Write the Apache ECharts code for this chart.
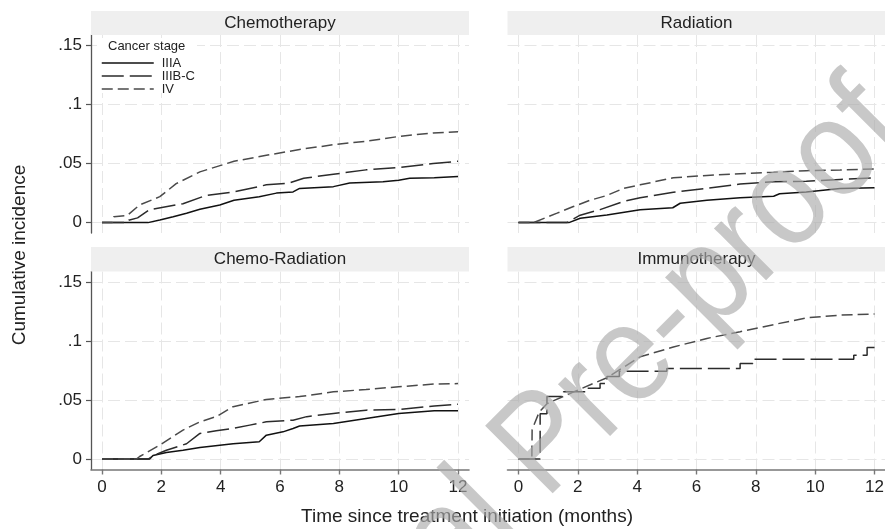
<!DOCTYPE html>
<html>
<head>
<meta charset="utf-8">
<script src="https://cdn.jsdelivr.net/npm/echarts@6/dist/echarts.min.js"></script>
<style>
  html, body { margin: 0; padding: 0; background: #fff; }
  #chart { width: 885px; height: 529px; }
</style>
</head>
<body>
<div id="chart"></div>
<script>
// panels and stages
var panels = ['Chemotherapy', 'Radiation', 'Chemo-Radiation', 'Immunotherapy'];
var stages = ['IIIA', 'IIIB-C', 'IV'];

// ticks
var xTicks = [0, 2, 4, 6, 8, 10, 12];
var yTicks = [0, 0.05, 0.1, 0.15];
var yTickLabels = ['0', '.05', '.1', '.15'];

// cumulative incidence [months, value]
var chemoIIIA = [[0, 0], [1.55, 0], [1.95, 0.0023], [2.4, 0.0049], [2.85, 0.008], [3.3, 0.0113], [3.97, 0.015],
  [4.45, 0.019], [5.3, 0.022], [5.88, 0.025], [6.44, 0.026], [6.66, 0.029], [7.8, 0.0305], [8.35, 0.0335],
  [9.47, 0.0347], [10, 0.036], [10.37, 0.0376], [11.2, 0.038], [12, 0.039]];
var chemoIIIBC = [[0, 0], [0.85, 0], [0.9, 0.002], [1.2, 0.004], [1.6, 0.011], [2.73, 0.016], [3.5, 0.023],
  [4.45, 0.026], [5.54, 0.032], [6.3, 0.0335], [6.8, 0.0376], [7.8, 0.041], [8.9, 0.0447], [10, 0.0466],
  [11.16, 0.05], [12, 0.052]];
var chemoIV = [[0, 0], [0.35, 0], [0.4, 0.005], [0.85, 0.006], [1.27, 0.015], [1.95, 0.022], [2.5, 0.033],
  [3.3, 0.043], [4.45, 0.052], [5.54, 0.057], [6.66, 0.062], [7.8, 0.066], [8.9, 0.069], [10, 0.073],
  [11.16, 0.076], [12, 0.077]];

var radIIIA = [[0, 0], [1.7, 0], [2.08, 0.0037], [2.98, 0.0065], [4.1, 0.011], [5.2, 0.0126], [5.45, 0.0164],
  [6.35, 0.019], [7.47, 0.021], [8.6, 0.0224], [8.8, 0.0245], [9.7, 0.026], [10.84, 0.029], [12, 0.0296]];
var radIIIBC = [[0, 0], [1.63, 0], [2.08, 0.0063], [2.75, 0.011], [3.54, 0.018], [4.1, 0.021], [5.22, 0.0257],
  [6.35, 0.029], [7.47, 0.0327], [8.6, 0.0347], [9.7, 0.035], [10.84, 0.0366], [12, 0.038]];
var radIV = [[0, 0], [0.5, 0], [1.3, 0.008], [1.85, 0.0136], [2.42, 0.019], [2.98, 0.023], [3.54, 0.029],
  [4.1, 0.032], [5.22, 0.038], [6.35, 0.04], [7.47, 0.0415], [8.6, 0.0427], [9.7, 0.044], [10.84, 0.0446],
  [12, 0.0455]];

var crIIIA = [[0, 0], [1.6, 0], [1.72, 0.003], [2.17, 0.0056], [2.73, 0.0075], [3.3, 0.0098], [4.42, 0.013],
  [5.3, 0.0147], [5.54, 0.0203], [6.1, 0.0231], [6.44, 0.026], [6.66, 0.028], [7.8, 0.0302], [8.9, 0.0345],
  [10, 0.0387], [11.2, 0.041], [12, 0.041]];
var crIIIBC = [[0, 0], [1.55, 0], [1.83, 0.004], [2.17, 0.0075], [2.85, 0.013], [3.3, 0.0218], [3.85, 0.024],
  [4.42, 0.026], [4.98, 0.0288], [5.54, 0.0316], [6.44, 0.033], [6.9, 0.036], [7.8, 0.0387], [8.9, 0.0415],
  [10, 0.042], [11.2, 0.045], [12, 0.0466]];
var crIV = [[0, 0], [1.16, 0], [1.27, 0.0022], [1.95, 0.0119], [2.73, 0.0246], [3.3, 0.0316], [3.85, 0.036],
  [4.42, 0.0444], [5.54, 0.0506], [6.66, 0.053], [7.8, 0.057], [8.9, 0.059], [10, 0.0613], [11.2, 0.0636],
  [12, 0.064]];

// immunotherapy: no IIIA curve
var immIIIBC = [[0, 0], [0.73, 0.0385], [0.96, 0.053], [1.52, 0.057], [2.3, 0.06], [2.75, 0.064], [2.98, 0.07],
  [3.4, 0.0745], [5.0, 0.0768], [7.47, 0.081], [7.9, 0.0847], [11.3, 0.088], [11.75, 0.0945], [12, 0.0945]];
var immIV = [[0, 0], [0.45, 0], [0.46, 0.025], [0.7, 0.04], [0.96, 0.047], [1.86, 0.057], [2.98, 0.069],
  [4.1, 0.0867], [5.22, 0.095], [6.35, 0.1023], [7.47, 0.108], [8.6, 0.114], [9.7, 0.1197], [10.84, 0.122],
  [12, 0.123]];

var panelData = [
  [chemoIIIA, chemoIIIBC, chemoIV],
  [radIIIA, radIIIBC, radIV],
  [crIIIA, crIIIBC, crIV],
  [null, immIIIBC, immIV]
];

var font = "'Liberation Sans', Arial, sans-serif";
var stageStyle = [
  { type: 'solid', color: '#111' },
  { type: [22, 6], color: '#2b2b2b' },
  { type: [11, 5], color: '#4a4a4a' }
];
var boxes = [
  { left: 91, top: 35 }, { left: 507.5, top: 35 },
  { left: 91, top: 271.5 }, { left: 507.5, top: 271.5 }
];
var boxW = 378, boxH = 198;
var gridLine = { show: true, lineStyle: { color: '#e6e6e6', type: [12, 5], width: 1 } };

var grids = [], xAxes = [], yAxes = [], series = [], graphics = [];

boxes.forEach(function (b, i) {
  var bottomRow = i >= 2, leftCol = i % 2 === 0;
  grids.push({ left: b.left, top: b.top, width: boxW, height: boxH, outerBoundsMode: 'none' });
  xAxes.push({
    type: 'value', gridIndex: i, min: -0.37, max: 12.37,
    axisLine: { show: bottomRow, onZero: false, lineStyle: { color: '#777', width: 1.6 } },
    axisTick: { show: bottomRow, customValues: xTicks, length: 5, lineStyle: { color: '#777', width: 1.4 } },
    axisLabel: { show: bottomRow, customValues: xTicks, margin: 9, fontSize: 17, color: '#222', fontFamily: font },
    splitLine: gridLine
  });
  yAxes.push({
    type: 'value', gridIndex: i, min: -0.0088, max: 0.159,
    axisLine: { show: leftCol, onZero: false, lineStyle: { color: '#555', width: 1.3 } },
    axisTick: { show: leftCol, customValues: yTicks, length: 5, lineStyle: { color: '#555', width: 1.2 } },
    axisLabel: {
      show: leftCol, customValues: yTicks, margin: 9, fontSize: 17, color: '#222', fontFamily: font,
      formatter: function (v) {
        for (var k = 0; k < yTicks.length; k++) {
          if (Math.abs(yTicks[k] - v) < 1e-9) return yTickLabels[k];
        }
        return '';
      }
    },
    splitLine: gridLine
  });

  panelData[i].forEach(function (d, s) {
    if (!d) return;
    series.push({
      name: stages[s],
      type: 'line',
      xAxisIndex: i,
      yAxisIndex: i,
      data: d,
      step: (i === 3 && s === 1) ? 'end' : false,
      symbol: 'none',
      lineStyle: { color: stageStyle[s].color, type: stageStyle[s].type, width: 1.5 },
      itemStyle: { color: stageStyle[s].color },
      z: 3 + s
    });
  });

  // header strip
  var stripTop = bottomRow ? 247 : 11;
  graphics.push({
    type: 'rect', silent: true, z: 1,
    shape: { x: b.left, y: stripTop, width: boxW, height: b.top - stripTop },
    style: { fill: '#efefef' }
  });
  graphics.push({
    type: 'text', silent: true, z: 2,
    x: b.left + boxW / 2, y: (stripTop + b.top) / 2 + 0.5,
    style: { text: panels[i], fontSize: 17, fontFamily: font, fill: '#222', align: 'center', verticalAlign: 'middle' }
  });
});

// axis titles
graphics.push({
  type: 'text', silent: true, x: 20, y: 255, rotation: Math.PI / 2,
  style: { text: 'Cumulative incidence', fontSize: 19, fontFamily: font, fill: '#222', align: 'center', verticalAlign: 'middle' }
});
graphics.push({
  type: 'text', silent: true, x: 467, y: 517,
  style: { text: 'Time since treatment initiation (months)', fontSize: 19, fontFamily: font, fill: '#222', align: 'center', verticalAlign: 'middle' }
});
// legend box and title
graphics.push({
  type: 'rect', silent: true, z: 1,
  shape: { x: 97, y: 38, width: 100, height: 55 },
  style: { fill: '#fff' }
});
graphics.push({
  type: 'text', silent: true, z: 2, x: 108, y: 46,
  style: { text: 'Cancer stage', fontSize: 13, fontFamily: font, fill: '#222', align: 'left', verticalAlign: 'middle' }
});
// watermark
graphics.push({
  type: 'text', silent: true, z: 100, x: 884, y: 108, rotation: 45 * Math.PI / 180, scaleY: 1.12,
  style: { text: 'Journal Pre-proof', fontSize: 124, fontFamily: font, fill: 'rgba(171,171,171,0.65)', align: 'right', verticalAlign: 'middle' }
});

var myChart = echarts.init(document.getElementById('chart'));

var option = {
  animation: false,
  backgroundColor: '#fff',
  grid: grids,
  xAxis: xAxes,
  yAxis: yAxes,
  legend: {
    data: stages.map(function (s, k) {
      return {
        name: s,
        itemStyle: { opacity: 0 },
        lineStyle: { type: stageStyle[k].type, color: stageStyle[k].color, width: 1.5 }
      };
    }),
    orient: 'vertical',
    left: 101,
    top: 56.5,
    z: 3,
    padding: 0,
    itemGap: 0,
    itemWidth: 52,
    itemHeight: 10,
    selectedMode: false,
    textStyle: { fontSize: 13, lineHeight: 12, fontFamily: font, color: '#222', padding: [0, 0, 0, 3] }
  },
  series: series,
  graphic: graphics
};

myChart.setOption(option);

window.addEventListener('resize', function () {
  myChart.resize();
});
</script>
</body>
</html>
